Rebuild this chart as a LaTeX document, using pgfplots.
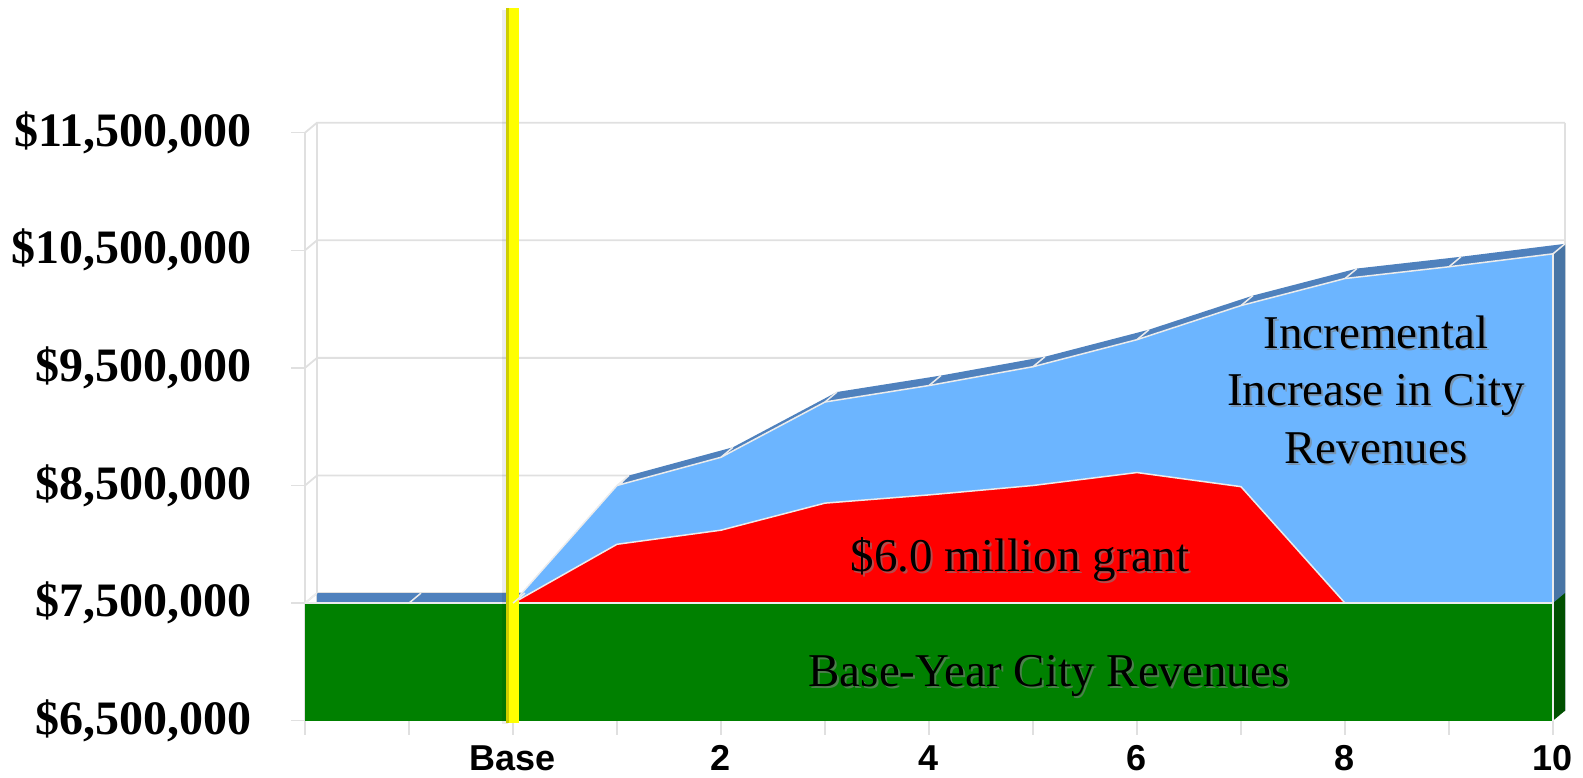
\documentclass[border=0pt]{standalone}
\usepackage{fontspec}
\setmainfont{Liberation Serif}
\newfontfamily\arial{Liberation Sans}
\usepackage{pgfplots}
\pgfplotsset{compat=1.18}
\usepackage{pgfplotstable}

\definecolor{cgreen}{RGB}{0,128,0}
\definecolor{cdkgreen}{RGB}{0,80,0}
\definecolor{cblue}{RGB}{108,181,255}
\definecolor{cstrip}{RGB}{79,129,189}
\definecolor{cside}{RGB}{72,117,165}
\definecolor{cgrid}{RGB}{224,224,224}
\definecolor{csep}{RGB}{236,236,236}
\definecolor{cyel}{RGB}{255,255,0}
\definecolor{cyeldk}{RGB}{205,205,0}

\pgfdeclareplotmark{depth}{\pgfpathmoveto{\pgfpointorigin}\pgfpathlineto{\pgfpoint{12pt}{10pt}}\pgfusepathqstroke}

\pgfplotstableread{
x total
-2 7500000
-1 7500000
0 7500000
1 8500000
2 8740000
3 9210000
4 9350000
5 9510000
6 9740000
7 10030000
8 10260000
9 10360000
10 10470000
}\totaltab

\pgfplotstableread{
x grant
0 7500000
1 8000000
2 8120000
3 8350000
4 8420000
5 8500000
6 8610000
7 8490000
8 7500000
}\granttab

\pgfplotstableread{
x base
-2 7500000
10 7500000
}\basetab

\begin{document}
\begin{tikzpicture}
\path[use as bounding box] (0,0) rectangle (1583pt,778pt);
\begin{axis}[
  at={(305pt,57.3pt)}, anchor=south west,
  scale only axis, width=1248pt, height=588pt,
  xmin=-2, xmax=10, ymin=6500000, ymax=11500000,
  clip=false,
  axis x line*=bottom, axis y line*=left,
  axis line style={draw=cgrid, line width=1.5pt, -},
  tick align=outside, major tick length=14pt, minor tick length=14pt,
  tick style={draw=cgrid, line width=1.5pt},
  xtick={0,2,4,6,8,10}, minor xtick={-2,-1,...,10},
  xticklabels={Base,2,4,6,8,10},
  ytick={6500000,7500000,8500000,9500000,10500000,11500000},
  yticklabels={{\$6,500,000},{\$7,500,000},{\$8,500,000},{\$9,500,000},{\$10,500,000},{\$11,500,000}},
  scaled y ticks=false,
  xticklabel style={font=\arial\bfseries\fontsize{36}{36}\selectfont, anchor=base, inner sep=0pt, yshift=-36pt},
  yticklabel style={font=\bfseries\fontsize{48}{48}\selectfont, anchor=east, inner sep=0pt, xshift=-39pt},
]
% back wall
\pgfplotsinvokeforeach{6500000,7500000,8500000,9500000,10500000,11500000}{
  \draw[cgrid, line width=1.8pt] (axis cs:-2,#1) -- ([shift={(12pt,10pt)}]axis cs:-2,#1) -- ([shift={(12pt,10pt)}]axis cs:10,#1);
}
\draw[cgrid, line width=1.8pt] ([shift={(12pt,10pt)}]axis cs:-2,6500000) -- ([shift={(12pt,10pt)}]axis cs:-2,11500000);
\draw[cgrid, line width=1.8pt] ([shift={(12pt,10pt)}]axis cs:10,6500000) -- ([shift={(12pt,10pt)}]axis cs:10,11500000);

% depth (top face) of the stack
\addplot[fill=cstrip, draw=none, shift={(12pt,10pt)}] table[x=x,y=total] {\totaltab} -- (axis cs:10,6500000) -- (axis cs:-2,6500000) -- cycle;
\fill[cside] (axis cs:10,7500000) -- (axis cs:10,10470000) -- ([shift={(12pt,10pt)}]axis cs:10,10470000) -- ([shift={(12pt,10pt)}]axis cs:10,7500000) -- cycle;
\fill[cdkgreen] (axis cs:10,6500000) -- (axis cs:10,7500000) -- ([shift={(12pt,10pt)}]axis cs:10,7500000) -- ([shift={(12pt,10pt)}]axis cs:10,6500000) -- cycle;
\addplot[only marks, mark=depth, mark options={draw=csep, line width=1.5pt}] table[x=x,y=total] {\totaltab};

% front faces
\addplot[fill=cgreen, draw=none] table[x=x,y=base] {\basetab} -- (axis cs:10,6500000) -- (axis cs:-2,6500000) -- cycle;
\addplot[fill=cblue, draw=none] table[x=x,y=total] {\totaltab} -- (axis cs:10,7500000) -- cycle;
\addplot[fill=red, draw=none] table[x=x,y=grant] {\granttab} -- cycle;

\addplot[draw=csep, line width=1.5pt] table[x=x,y=base] {\basetab};
\addplot[draw=csep, line width=1.5pt] table[x=x,y=grant] {\granttab};
\addplot[draw=csep, line width=1.5pt] table[x=x,y=total] {\totaltab};
\draw[csep, line width=1.2pt] (axis cs:10,6500000) -- (axis cs:10,10470000);

% labels
\node[anchor=base, text=black!50, opacity=.6, font=\fontsize{47}{47}\selectfont] at ([shift={(2pt,-2pt)}]axis cs:4.875,7767000) {\$6.0 million grant};
\node[anchor=base, font=\fontsize{47}{47}\selectfont] at (axis cs:4.875,7767000) {\$6.0 million grant};
\node[anchor=base, text=black!50, opacity=.6, font=\fontsize{47}{47}\selectfont] at ([shift={(2pt,-2pt)}]axis cs:5.154,6789000) {Base-Year City Revenues};
\node[anchor=base, font=\fontsize{47}{47}\selectfont] at (axis cs:5.154,6789000) {Base-Year City Revenues};
\node[anchor=base, text=black!50, opacity=.6, font=\fontsize{47}{47}\selectfont] at ([shift={(2pt,-2pt)}]axis cs:8.298,9667000) {Incremental};
\node[anchor=base, font=\fontsize{47}{47}\selectfont] at (axis cs:8.298,9667000) {Incremental};
\node[anchor=base, text=black!50, opacity=.6, font=\fontsize{47}{47}\selectfont] at ([shift={(2pt,-2pt)}]axis cs:8.298,9184000) {Increase in City};
\node[anchor=base, font=\fontsize{47}{47}\selectfont] at (axis cs:8.298,9184000) {Increase in City};
\node[anchor=base, text=black!50, opacity=.6, font=\fontsize{47}{47}\selectfont] at ([shift={(2pt,-2pt)}]axis cs:8.298,8689000) {Revenues};
\node[anchor=base, font=\fontsize{47}{47}\selectfont] at (axis cs:8.298,8689000) {Revenues};

% base-year marker line
\addplot[draw=black, opacity=0.07, line width=6pt, xshift=-8pt] coordinates {(0,6470000) (0,12540000)};
\addplot[draw=cyel, line width=13pt] coordinates {(0,6480000) (0,12560000)};
\addplot[draw=cyeldk, line width=3pt, xshift=-5pt] coordinates {(0,6480000) (0,12560000)};
\end{axis}
\end{tikzpicture}
\end{document}
